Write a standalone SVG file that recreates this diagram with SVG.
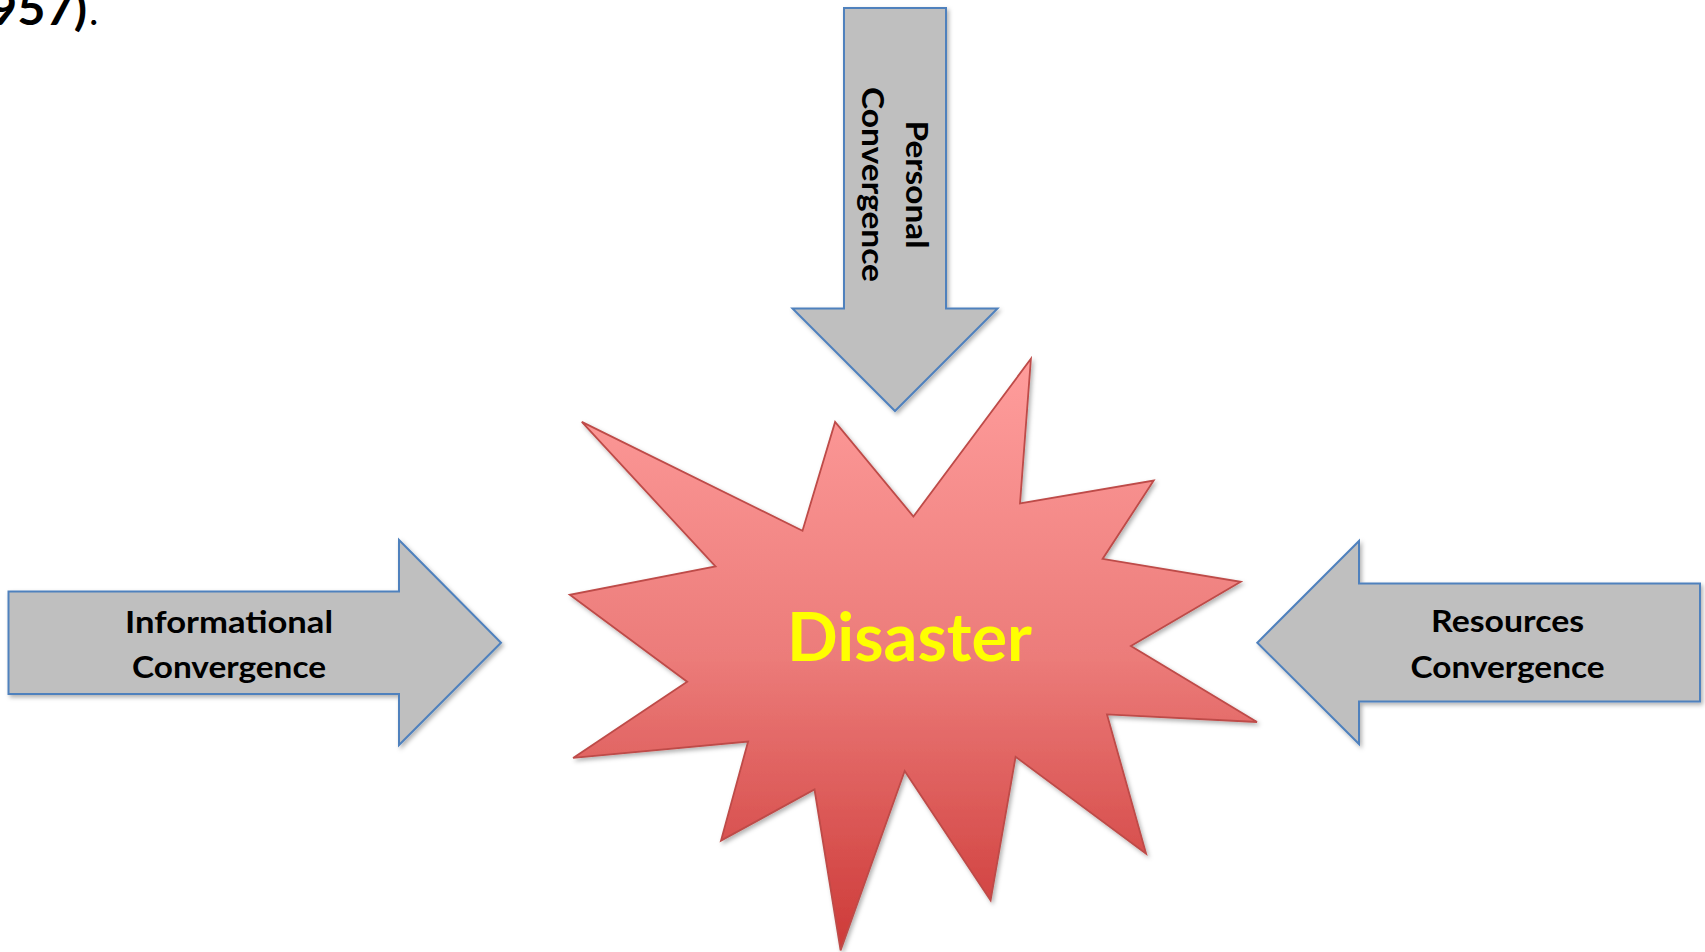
<svg xmlns="http://www.w3.org/2000/svg" width="1705" height="952" viewBox="0 0 1705 952">
<style>
.arrow{fill:#bfbfbf;stroke:#4f81bd;stroke-width:2;stroke-linejoin:miter}
.lbl{font-family:Lato,"Liberation Sans",sans-serif;font-weight:bold;font-size:31px;fill:#000;text-anchor:middle}
</style>
<defs>
<linearGradient id="starGrad" x1="0" y1="0" x2="0" y2="1">
<stop offset="0" stop-color="#ff9d9c"/>
<stop offset="0.5" stop-color="#ec7c7a"/>
<stop offset="1" stop-color="#cd3a38"/>
</linearGradient>
<filter id="sh" x="-10%" y="-10%" width="120%" height="120%">
<feDropShadow dx="2" dy="2.5" stdDeviation="2" flood-color="#000" flood-opacity="0.3"/>
</filter>
</defs>
<rect width="1705" height="952" fill="#fff"/>
<g id="citation">
<text x="-11" y="25" font-family="Lato,'Liberation Sans',sans-serif" font-weight="bold" font-size="46" textLength="98" lengthAdjust="spacingAndGlyphs">957)</text>
<text x="89" y="25" font-family="Lato,'Liberation Sans',sans-serif" font-size="40">.</text>
</g>
<g id="connectors">
<g id="personal">
<path class="arrow" filter="url(#sh)" d="M844,8 L946,8 L946,308.5 L997.5,308.5 L895,411 L792.5,308.5 L844,308.5 Z"/>
<text class="lbl" transform="translate(906,184.5) rotate(90)" textLength="128" lengthAdjust="spacingAndGlyphs">Personal</text>
<text class="lbl" transform="translate(861.5,184.5) rotate(90)" textLength="195" lengthAdjust="spacingAndGlyphs">Convergence</text>
</g>
<g id="informational">
<path class="arrow" filter="url(#sh)" d="M8.5,591.5 L399,591.5 L399,540 L501,642.7 L399,745 L399,694 L8.5,694 Z"/>
<text class="lbl" x="229" y="633.3" textLength="208" lengthAdjust="spacingAndGlyphs">Informational</text>
<text class="lbl" x="229" y="678" textLength="194" lengthAdjust="spacingAndGlyphs">Convergence</text>
</g>
<g id="resources">
<path class="arrow" filter="url(#sh)" d="M1700,583.5 L1359,583.5 L1359,541 L1257.3,642.7 L1359,744 L1359,701.5 L1700,701.5 Z"/>
<text class="lbl" x="1507.6" y="632" textLength="153" lengthAdjust="spacingAndGlyphs">Resources</text>
<text class="lbl" x="1507.6" y="678" textLength="194" lengthAdjust="spacingAndGlyphs">Convergence</text>
</g>
</g>
<g id="disaster">
<polygon filter="url(#sh)" fill="url(#starGrad)" stroke="#be4b48" stroke-width="1.8" stroke-linejoin="miter" points="581.8,421.9 802.5,530.7 835.1,421.9 913.4,516.5 1030.9,358.8 1020,503.5 1153.7,480.6 1102.6,558.9 1240.7,581.8 1130.9,645.9 1257,722 1107,714.4 1146.1,853.6 1015.6,756.8 990.6,900.4 904.7,771 840.6,950.4 814.5,789.5 721,840.6 748.1,741.6 573.1,757.9 687.2,681.8 569.8,594.8 715.5,566.5"/>
<text x="909.5" y="661" font-family="Lato,'Liberation Sans',sans-serif" font-weight="bold" font-size="66" fill="#ffff00" text-anchor="middle" textLength="245" lengthAdjust="spacingAndGlyphs">Disaster</text>
</g>
</svg>
